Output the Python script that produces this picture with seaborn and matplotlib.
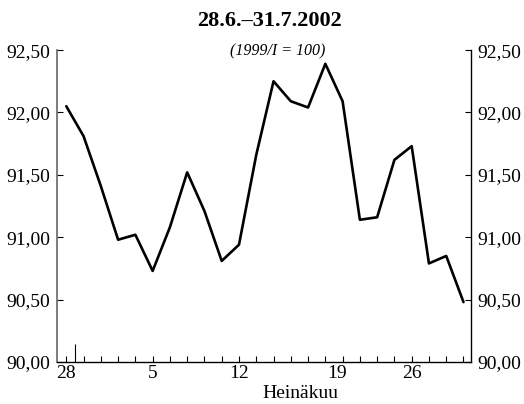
import matplotlib
matplotlib.use("Agg")

import numpy as np
import pandas as pd
import matplotlib.pyplot as plt
import seaborn as sns

# ------------------------------------------------------------
# Data: daily values 28.6.-31.7.2002 (trading days)
# ------------------------------------------------------------

days = ["28.6", "1.7", "2.7", "3.7", "4.7", "5.7", "8.7", "9.7", "10.7", "11.7",
        "12.7", "15.7", "16.7", "17.7", "18.7", "19.7", "22.7", "23.7", "24.7",
        "25.7", "26.7", "29.7", "30.7", "31.7"]
values = [92.05, 91.81, 91.41, 90.98, 91.02, 90.73, 91.08, 91.52, 91.21, 90.81,
          90.94, 91.66, 92.25, 92.09, 92.04, 92.39, 92.09, 91.14, 91.16, 91.62,
          91.73, 90.79, 90.85, 90.48]

tick_pos = [0, 5, 10, 15.7, 20]
tick_labels = ["28", "5", "12", "19", "26"]
y_ticks = [90.0, 90.5, 91.0, 91.5, 92.0, 92.5]

df = pd.DataFrame({"idx": np.arange(len(values)), "value": values, "day": days})

# ------------------------------------------------------------
# Plot
# ------------------------------------------------------------

sns.set_style("ticks")
plt.rcParams["font.family"] = ["Liberation Serif", "DejaVu Serif"]
plt.rcParams["text.color"] = "black"
plt.rcParams["xtick.color"] = "black"
plt.rcParams["ytick.color"] = "black"
plt.rcParams["axes.edgecolor"] = "black"

fig = plt.figure(figsize=(5.24, 4.04), dpi=100)
ax = fig.add_axes([0.1097, 0.104, 0.789, 0.772])

sns.lineplot(data=df, x="idx", y="value", ax=ax, color="black", linewidth=1.9)

ax.set_xlim(-0.51, 23.43)
ax.set_ylim(90.0, 92.5)

ax.set_yticks(y_ticks)
ax.set_yticklabels([f"{v:.2f}".replace(".", ",") for v in y_ticks])
ax.tick_params(axis="y", direction="in", length=4, width=0.8, left=True, right=True,
               labelleft=True, labelright=True, labelsize=14, pad=5)

# month boundary tick (tall) + daily minor ticks
ax.set_xticks([0.5])
ax.set_xticklabels([""])
ax.set_xticks(np.arange(len(values)), minor=True)
ax.tick_params(axis="x", which="major", direction="in", length=13, width=0.8)
ax.tick_params(axis="x", which="minor", direction="in", length=4, width=0.8)

sec = ax.secondary_xaxis("bottom")
sec.set_xticks(tick_pos)
sec.set_xticklabels(tick_labels)
sec.tick_params(length=0, labelsize=14, pad=2)
sec.spines["bottom"].set_visible(False)

ax.set_xlabel("")
ax.set_ylabel("")

ax.spines["top"].set_visible(False)
ax.spines["left"].set_color("#666666")
ax.spines["left"].set_linewidth(1.2)
ax.spines["right"].set_linewidth(1.0)
ax.spines["bottom"].set_linewidth(1.0)

fig.text(270 / 524, 1 - 20.5 / 404, "28.6.\u201331.7.2002", ha="center", va="center",
         fontsize=16, fontweight="bold")
fig.text(278 / 524, 1 - 51 / 404, "(1999/I = 100)", ha="center", va="center",
         fontsize=11.5, fontstyle="italic")
fig.text(300 / 524, 1 - 393 / 404, "Heinäkuu", ha="center", va="center", fontsize=14)

fig.savefig("out.png", dpi=100)
plt.close(fig)
